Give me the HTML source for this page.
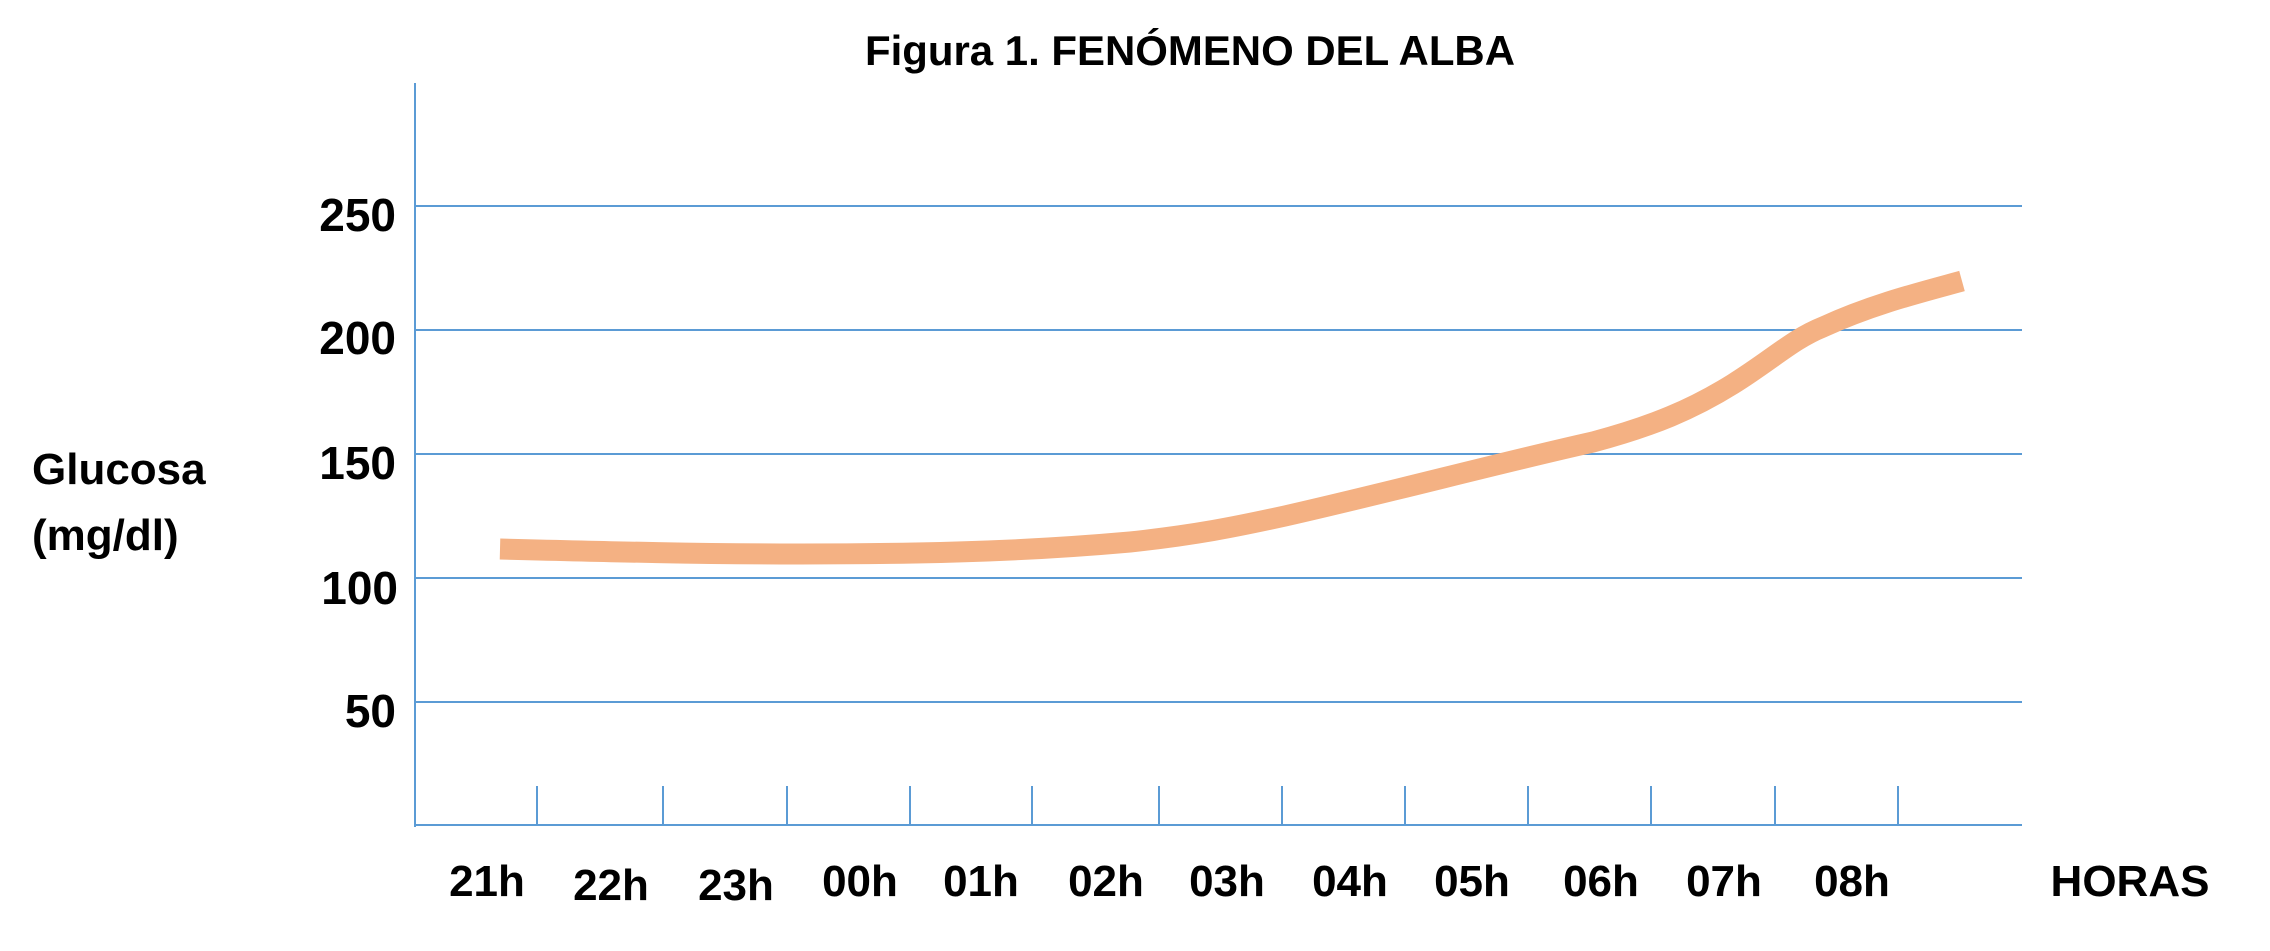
<!DOCTYPE html>
<html><head><meta charset="utf-8"><style>
html,body{margin:0;padding:0;background:#fff;}
svg{display:block;}
text{font-family:"Liberation Sans",sans-serif;font-weight:bold;fill:#000;}
</style></head><body>
<svg width="2270" height="951" viewBox="0 0 2270 951" xmlns="http://www.w3.org/2000/svg">
<text x="1190" y="65" font-size="42" text-anchor="middle" textLength="650" lengthAdjust="spacingAndGlyphs">Figura 1. FENÓMENO DEL ALBA</text>
<g stroke="#5b9bd5" stroke-width="2" fill="none">
<line x1="415" y1="83" x2="415" y2="827"/>
<line x1="415" y1="825" x2="2022" y2="825"/>
<line x1="415" y1="206" x2="2022" y2="206"/>
<line x1="415" y1="330" x2="2022" y2="330"/>
<line x1="415" y1="454" x2="2022" y2="454"/>
<line x1="415" y1="578" x2="2022" y2="578"/>
<line x1="415" y1="702" x2="2022" y2="702"/>
<path d="M537 786V825M663 786V825M787 786V825M910 786V825M1032 786V825M1159 786V825M1282 786V825M1405 786V825M1528 786V825M1651 786V825M1775 786V825M1898 786V825"/>
</g>
<g font-size="46" text-anchor="end">
<text x="396" y="231">250</text>
<text x="396" y="354">200</text>
<text x="396" y="479">150</text>
<text x="398" y="604">100</text>
<text x="396" y="727">50</text>
</g>
<text x="32" y="484" font-size="44">Glucosa</text>
<text x="32" y="550" font-size="44">(mg/dl)</text>
<g font-size="44" text-anchor="middle">
<text x="487" y="896">21h</text>
<text x="611" y="900">22h</text>
<text x="736" y="900">23h</text>
<text x="860" y="896">00h</text>
<text x="981" y="896">01h</text>
<text x="1106" y="896">02h</text>
<text x="1227" y="896">03h</text>
<text x="1350" y="896">04h</text>
<text x="1472" y="896">05h</text>
<text x="1601" y="896">06h</text>
<text x="1724" y="896">07h</text>
<text x="1852" y="896">08h</text>
<text x="2130" y="896">HORAS</text>
</g>
<path d="M500 549 C620 552 700 554 800 554 C950 554 1040 550 1130 542 C1195 535 1235 527 1285 516 C1395 491 1495 464 1593 442 C1653 426 1693 409 1733 384 C1773 359 1793 339 1823 327 C1873 304 1922 292 1962 281" fill="none" stroke="#f4b183" stroke-width="21"/>
</svg>
</body></html>
